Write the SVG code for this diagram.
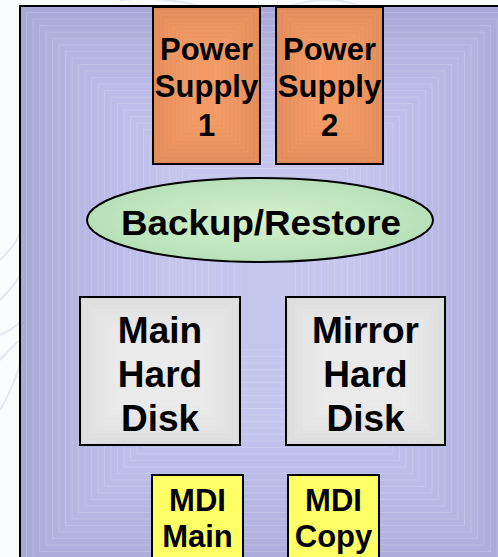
<svg xmlns="http://www.w3.org/2000/svg" width="498" height="557" viewBox="0 0 498 557">
<defs>
<style>
.t{font-family:"Liberation Sans",Arial,sans-serif;font-weight:bold;fill:#000;text-anchor:middle}
.bg rect{fill:#d2d2ff;fill-opacity:0.05;stroke:#ffffff;stroke-opacity:0.16;stroke-width:1}
.or rect{fill:#fbaa72;fill-opacity:0.09;stroke:#ffffff;stroke-opacity:0.08;stroke-width:1}
.gr rect{fill:#f4f4f4;fill-opacity:0.1;stroke:#ffffff;stroke-opacity:0.12;stroke-width:1}
.frame{fill:none;stroke:#000;stroke-width:2}
.box{fill:none;stroke:#000;stroke-width:2}
.mdi{fill:#ffff66;stroke:#000;stroke-width:2}
.swirl{fill:none;stroke:#e3e9f0;stroke-width:2}
</style>
<radialGradient id="gEll" cx="0.5" cy="0.5" r="0.5">
<stop offset="0" stop-color="#d6f2cc"/>
<stop offset="1" stop-color="#b7e0b8"/>
</radialGradient>
</defs>
<rect x="0" y="0" width="498" height="557" fill="#fafbfc"/>
<g id="swirls">
<path class="swirl" d="M0 260 Q20 240 20 230"/>
<path class="swirl" d="M0 300 Q15 285 20 275"/>
<path class="swirl" d="M0 335 Q12 330 20 322"/>
<path class="swirl" d="M0 360 Q14 345 20 340"/>
<path class="swirl" d="M0 410 Q12 390 20 365"/>
<path class="swirl" d="M120 0 Q160 -4 200 6"/>
<path class="swirl" d="M290 6 Q330 -6 360 6"/>
</g>
<g id="background">
<rect x="20" y="6" width="490" height="565" fill="#a9a9da"/>
<g class="bg">
<rect x="26.5" y="12.5" width="477" height="552"/>
<rect x="33" y="19" width="464" height="539"/>
<rect x="39.5" y="25.5" width="451" height="526"/>
<rect x="46" y="32" width="438" height="513"/>
<rect x="52.5" y="38.5" width="425" height="500"/>
<rect x="59" y="45" width="412" height="487"/>
<rect x="65.5" y="51.5" width="399" height="474"/>
<rect x="72" y="58" width="386" height="461"/>
<rect x="78.5" y="64.5" width="373" height="448"/>
<rect x="85" y="71" width="360" height="435"/>
<rect x="91.5" y="77.5" width="347" height="422"/>
<rect x="98" y="84" width="334" height="409"/>
<rect x="104.5" y="90.5" width="321" height="396"/>
<rect x="111" y="97" width="308" height="383"/>
<rect x="117.5" y="103.5" width="295" height="370"/>
<rect x="124" y="110" width="282" height="357"/>
<rect x="130.5" y="116.5" width="269" height="344"/>
<rect x="137" y="123" width="256" height="331"/>
<rect x="143.5" y="129.5" width="243" height="318"/>
<rect x="150" y="136" width="230" height="305"/>
<rect x="156.5" y="142.5" width="217" height="292"/>
<rect x="163" y="149" width="204" height="279"/>
<rect x="169.5" y="155.5" width="191" height="266"/>
<rect x="176" y="162" width="178" height="253"/>
<rect x="182.5" y="168.5" width="165" height="240"/>
<rect x="189" y="175" width="152" height="227"/>
<rect x="195.5" y="181.5" width="139" height="214"/>
<rect x="202" y="188" width="126" height="201"/>
<rect x="208.5" y="194.5" width="113" height="188"/>
<rect x="215" y="201" width="100" height="175"/>
<rect x="221.5" y="207.5" width="87" height="162"/>
<rect x="228" y="214" width="74" height="149"/>
<rect x="234.5" y="220.5" width="61" height="136"/>
<rect x="241" y="227" width="48" height="123"/>
</g>
<rect class="frame" x="20" y="6" width="490" height="565"/>
</g>
<g id="ps1">
<rect x="153" y="7" width="107" height="157" fill="#e38b58"/>
<g class="or">
<rect x="157" y="11" width="99" height="149"/>
<rect x="161" y="15" width="91" height="141"/>
<rect x="165" y="19" width="83" height="133"/>
<rect x="169" y="23" width="75" height="125"/>
<rect x="173" y="27" width="67" height="117"/>
<rect x="177" y="31" width="59" height="109"/>
<rect x="181" y="35" width="51" height="101"/>
<rect x="185" y="39" width="43" height="93"/>
<rect x="189" y="43" width="35" height="85"/>
<rect x="193" y="47" width="27" height="77"/>
<rect x="197" y="51" width="19" height="69"/>
</g>
<rect class="box" x="153" y="7" width="107" height="157"/>
<text class="t" font-size="31" x="206.5" y="60">Power</text>
<text class="t" font-size="31" x="206.5" y="97">Supply</text>
<text class="t" font-size="31" x="206.5" y="136">1</text>
</g>
<g id="ps2">
<rect x="276" y="7" width="107" height="157" fill="#e38b58"/>
<g class="or">
<rect x="280" y="11" width="99" height="149"/>
<rect x="284" y="15" width="91" height="141"/>
<rect x="288" y="19" width="83" height="133"/>
<rect x="292" y="23" width="75" height="125"/>
<rect x="296" y="27" width="67" height="117"/>
<rect x="300" y="31" width="59" height="109"/>
<rect x="304" y="35" width="51" height="101"/>
<rect x="308" y="39" width="43" height="93"/>
<rect x="312" y="43" width="35" height="85"/>
<rect x="316" y="47" width="27" height="77"/>
<rect x="320" y="51" width="19" height="69"/>
</g>
<rect class="box" x="276" y="7" width="107" height="157"/>
<text class="t" font-size="31" x="329.5" y="60">Power</text>
<text class="t" font-size="31" x="329.5" y="97">Supply</text>
<text class="t" font-size="31" x="329.5" y="136">2</text>
</g>
<g id="backup">
<ellipse cx="260" cy="220" rx="173" ry="42" fill="url(#gEll)" stroke="#000" stroke-width="2"/>
<text class="t" font-size="35" x="261" y="235" textLength="280" lengthAdjust="spacingAndGlyphs">Backup/Restore</text>
</g>
<g id="mainDisk">
<rect x="80" y="297" width="160" height="148" fill="#dcdcdc"/>
<g class="gr">
<rect x="84" y="301" width="152" height="140"/>
<rect x="88" y="305" width="144" height="132"/>
<rect x="92" y="309" width="136" height="124"/>
<rect x="96" y="313" width="128" height="116"/>
<rect x="100" y="317" width="120" height="108"/>
<rect x="104" y="321" width="112" height="100"/>
<rect x="108" y="325" width="104" height="92"/>
<rect x="112" y="329" width="96" height="84"/>
<rect x="116" y="333" width="88" height="76"/>
<rect x="120" y="337" width="80" height="68"/>
</g>
<rect class="box" x="80" y="297" width="160" height="148"/>
<text class="t" font-size="37" x="160" y="343">Main</text>
<text class="t" font-size="37" x="160" y="387">Hard</text>
<text class="t" font-size="37" x="160" y="431">Disk</text>
</g>
<g id="mirrorDisk">
<rect x="286" y="297" width="159" height="148" fill="#dcdcdc"/>
<g class="gr">
<rect x="290" y="301" width="151" height="140"/>
<rect x="294" y="305" width="143" height="132"/>
<rect x="298" y="309" width="135" height="124"/>
<rect x="302" y="313" width="127" height="116"/>
<rect x="306" y="317" width="119" height="108"/>
<rect x="310" y="321" width="111" height="100"/>
<rect x="314" y="325" width="103" height="92"/>
<rect x="318" y="329" width="95" height="84"/>
<rect x="322" y="333" width="87" height="76"/>
<rect x="326" y="337" width="79" height="68"/>
</g>
<rect class="box" x="286" y="297" width="159" height="148"/>
<text class="t" font-size="37" x="365.5" y="343">Mirror</text>
<text class="t" font-size="37" x="365.5" y="387">Hard</text>
<text class="t" font-size="37" x="365.5" y="431">Disk</text>
</g>
<g id="mdiMain">
<rect class="mdi" x="152" y="475" width="91" height="100"/>
<text class="t" font-size="31" x="197.5" y="511">MDI</text>
<text class="t" font-size="31" x="197.5" y="547">Main</text>
</g>
<g id="mdiCopy">
<rect class="mdi" x="288" y="475" width="91" height="100"/>
<text class="t" font-size="31" x="333.5" y="511">MDI</text>
<text class="t" font-size="31" x="333.5" y="547">Copy</text>
</g>
<g id="connectors"/>
</svg>
